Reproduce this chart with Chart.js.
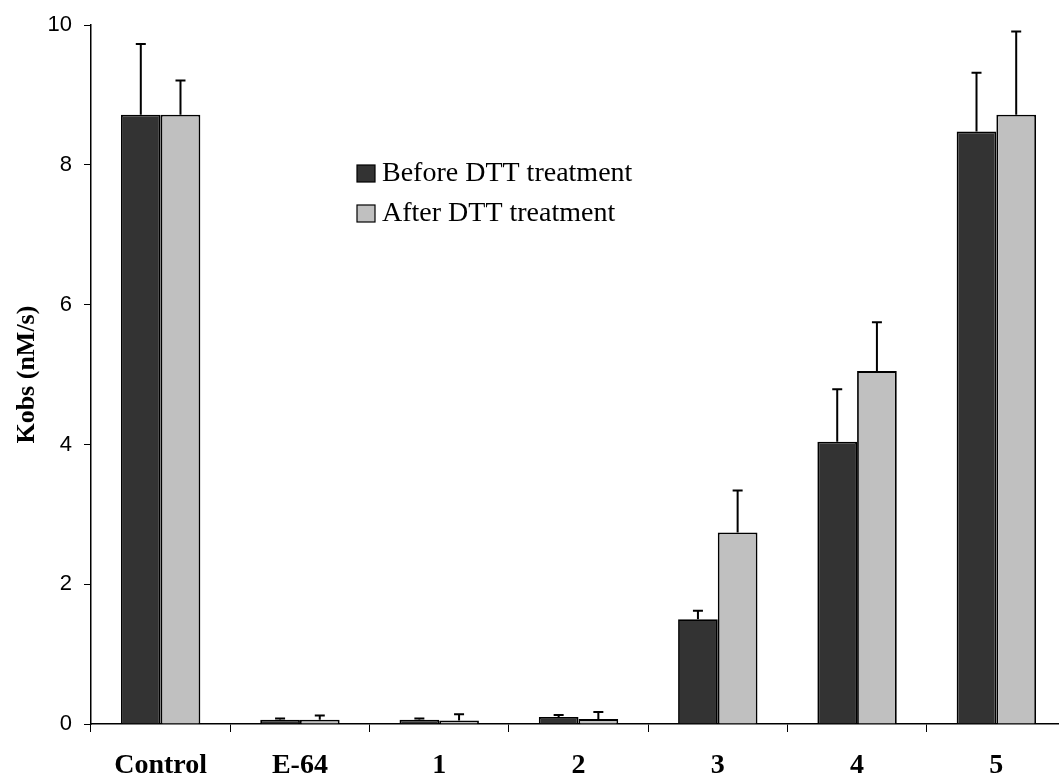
<!DOCTYPE html>
<html>
<head>
<meta charset="utf-8">
<script src="https://cdn.jsdelivr.net/npm/chart.js@4/dist/chart.umd.min.js"></script>
<style>
  html, body { margin: 0; padding: 0; background: #fff; overflow: hidden; }
  #wrap { width: 1068px; height: 784px; }
</style>
</head>
<body>
<div id="wrap"><canvas id="myChart" width="1068" height="784"></canvas></div>
<script>
"use strict";

const categories = ["Control", "E-64", "1", "2", "3", "4", "5"];
const beforeValues = [8.72, 0.06, 0.06, 0.10, 1.50, 4.04, 8.48];
const beforeErrors = [1.01, 0.02, 0.02, 0.03, 0.12, 0.75, 0.84];
const afterValues = [8.72, 0.06, 0.05, 0.07, 2.74, 5.05, 8.72];
const afterErrors = [0.49, 0.06, 0.09, 0.10, 0.60, 0.70, 1.19];
const yTicks = [0, 2, 4, 6, 8, 10];
const seriesNames = ["Before DTT treatment", "After DTT treatment"];
const seriesColors = ["#333333", "#c0c0c0"];

const serif = "'Liberation Serif', 'Times New Roman', serif";
const sans = "'Liberation Sans', Arial, sans-serif";

// upward-only error bars drawn through the y scale
const errorBars = {
  id: "errorBars",
  afterDatasetsDraw(chart) {
    const ctx = chart.ctx;
    const yScale = chart.scales.y;
    chart.data.datasets.forEach(function (ds, i) {
      const meta = chart.getDatasetMeta(i);
      meta.data.forEach(function (bar, j) {
        const top = yScale.getPixelForValue(ds.data[j] + ds.errors[j]);
        ctx.save();
        ctx.strokeStyle = "#000";
        ctx.lineWidth = 2;
        ctx.beginPath();
        ctx.moveTo(bar.x, bar.y);
        ctx.lineTo(bar.x, top);
        ctx.moveTo(bar.x - 5, top);
        ctx.lineTo(bar.x + 5, top);
        ctx.stroke();
        ctx.restore();
      });
    });
  }
};

// legend inside the plot like the original figure
const boxLegend = {
  id: "boxLegend",
  afterDraw(chart) {
    const ctx = chart.ctx;
    const x = chart.chartArea.left + 266;
    let y = 173;
    ctx.save();
    ctx.font = "28px " + serif;
    ctx.textBaseline = "middle";
    for (let i = 0; i < seriesNames.length; i++) {
      ctx.fillStyle = seriesColors[i];
      ctx.fillRect(x, y - 8, 18, 17);
      ctx.strokeStyle = "#000";
      ctx.lineWidth = 1.2;
      ctx.strokeRect(x, y - 8, 18, 17);
      ctx.fillStyle = "#000";
      ctx.fillText(seriesNames[i], x + 25, y + 1);
      y += 40;
    }
    ctx.restore();
  }
};

const data = {
  labels: categories,
  datasets: [
    {
      label: seriesNames[0],
      data: beforeValues,
      errors: beforeErrors,
      backgroundColor: seriesColors[0],
      borderColor: "#000",
      borderWidth: 1.8,
      categoryPercentage: 0.57,
      barPercentage: 1.0
    },
    {
      label: seriesNames[1],
      data: afterValues,
      errors: afterErrors,
      backgroundColor: seriesColors[1],
      borderColor: "#000",
      borderWidth: 1.8,
      categoryPercentage: 0.57,
      barPercentage: 1.0
    }
  ]
};

const config = {
  type: "bar",
  data: data,
  options: {
    responsive: false,
    animation: false,
    layout: { padding: { top: 25, right: 2, left: 0, bottom: 0 } },
    plugins: {
      legend: { display: false },
      tooltip: { enabled: false }
    },
    scales: {
      x: {
        grid: {
          offset: true,
          drawOnChartArea: false,
          drawTicks: true,
          tickLength: 8,
          color: "#000",
          lineWidth: 1
        },
        border: { color: "#000", width: 1.5 },
        ticks: {
          color: "#000",
          padding: 17,
          maxRotation: 0,
          font: { family: serif, size: 28, weight: "bold" }
        },
        afterFit: function (scale) { scale.height = 60; }
      },
      y: {
        min: 0,
        max: 10,
        afterBuildTicks: function (scale) {
          scale.ticks = yTicks.map(function (v) { return { value: v }; });
        },
        grid: {
          drawOnChartArea: false,
          drawTicks: true,
          tickLength: 7,
          color: "#000",
          lineWidth: 1
        },
        border: { color: "#000", width: 1.5 },
        ticks: {
          color: "#000",
          padding: 12,
          font: { family: sans, size: 22 }
        },
        title: {
          display: true,
          text: "Kobs (nM/s)",
          color: "#000",
          padding: { top: 12, bottom: 0 },
          font: { family: serif, size: 26, weight: "bold" }
        },
        afterFit: function (scale) { scale.width = 91; }
      }
    }
  },
  plugins: [errorBars, boxLegend]
};

const myChart = new Chart(document.getElementById("myChart"), config);
</script>
</body>
</html>
